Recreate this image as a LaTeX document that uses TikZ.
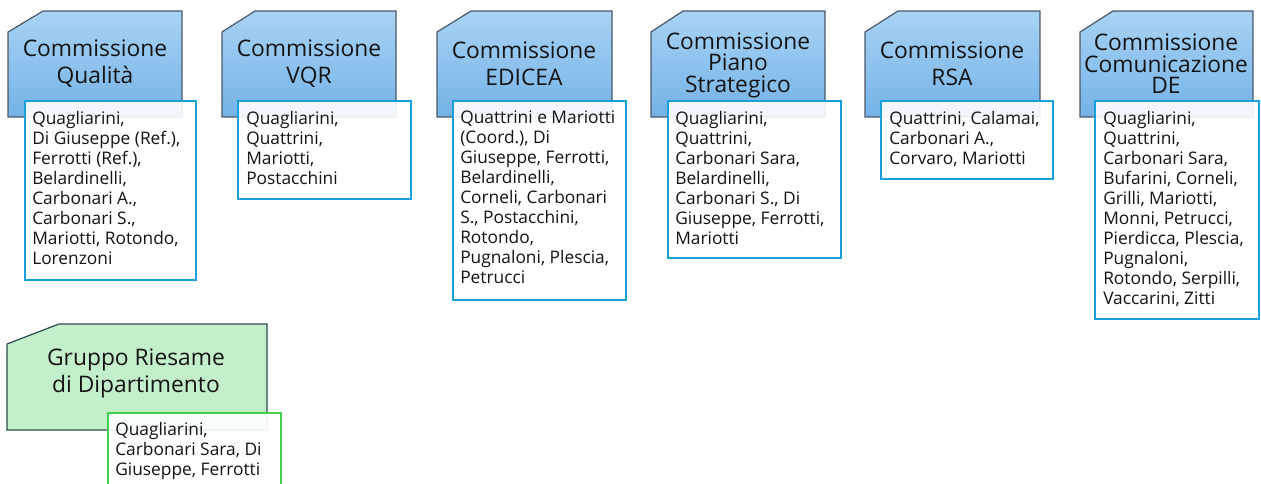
\documentclass[tikz,border=0pt]{standalone}
\usepackage{fontspec}
\setmainfont{Open Sans}
\definecolor{tabtop}{HTML}{A8D3F5}
\definecolor{tabbot}{HTML}{74B2E6}
\definecolor{tabline}{HTML}{4A5868}
\definecolor{boxblue}{HTML}{18A0DA}
\definecolor{grfill}{HTML}{C3EFCB}
\definecolor{grline}{HTML}{2B4B52}
\definecolor{boxgreen}{HTML}{40D04E}
\tikzset{
  tabblue/.style={draw=tabline, line width=0.9pt, top color=tabtop, bottom color=tabbot},
  tabgreen/.style={draw=grline, line width=0.9pt, fill=grfill},
  title/.style={font=\fontsize{17.1}{20.3}\selectfont, align=center, inner sep=0pt, text=black!92},
  titlethree/.style={font=\fontsize{17.1}{16.2}\selectfont, align=center, inner sep=0pt, text=black!92},
  bluebox/.style={draw=boxblue, line width=1.9pt, fill=white, fill opacity=0.9},
  greenbox/.style={draw=boxgreen, line width=2.1pt, fill=white, fill opacity=0.9},
  body/.style={font=\fontsize{13}{15}\selectfont, align=left, inner sep=0pt, anchor=north west, text=black!92},
}
\begin{document}
\begin{tikzpicture}[x=0.75pt,y=-0.75pt]
\useasboundingbox (0,0) rectangle (1261,483);
\clip (0,0) rectangle (1261,483);
% tabs
\draw[tabblue] (8,32) -- (43,11) -- (182,11) -- (182,117) -- (8,117) -- cycle;
\draw[tabblue] (222,32) -- (255,11) -- (396,11) -- (396,117) -- (222,117) -- cycle;
\draw[tabblue] (437,32) -- (471,11) -- (612,11) -- (612,117) -- (437,117) -- cycle;
\draw[tabblue] (651,32) -- (683,11) -- (825,11) -- (825,117) -- (651,117) -- cycle;
\draw[tabblue] (865,32) -- (898,11) -- (1040,11) -- (1040,117) -- (865,117) -- cycle;
\draw[tabblue] (1080,32) -- (1113,11) -- (1253,11) -- (1253,117) -- (1080,117) -- cycle;
\draw[tabgreen] (7,344) -- (59,324) -- (267,324) -- (267,430) -- (7,430) -- cycle;
% titles
\node[title] (t1) at (95,64) {Commissione\\Qualità};
\node[title] (t2) at (309,64) {Commissione\\VQR};
\node[title] (t3) at (524,64) {Commissione\\EDICEA};
\node[titlethree] (t4) at (738,65) {Commissione\\Piano\\Strategico};
\node[title] (t5) at (952,64) {Commissione\\RSA};
\node[titlethree] (t6) at (1166,64) {Commissione\\Comunicazione\\DE};
\node[title] (t7) at (136,373) {Gruppo Riesame\\di Dipartimento};
% boxes
\draw[bluebox] (25,101) rectangle (196,280);
\draw[bluebox] (238,101) rectangle (411,199);
\draw[bluebox] (453,101) rectangle (626,300);
\draw[bluebox] (668,101) rectangle (841,258);
\draw[bluebox] (881,101) rectangle (1053,179);
\draw[bluebox] (1095,101) rectangle (1259,319);
\draw[greenbox] (108,413) rectangle (281,520);
% body texts
\node[body] (b1) at (32,111) {Quagliarini,\\Di Giuseppe (Ref.),\\Ferrotti (Ref.),\\Belardinelli,\\Carbonari A.,\\Carbonari S.,\\Mariotti, Rotondo,\\Lorenzoni};
\node[body] (b2) at (246,111) {Quagliarini,\\Quattrini,\\Mariotti,\\Postacchini};
\node[body] (b3) at (460,111) {Quattrini e Mariotti\\(Coord.), Di\\Giuseppe, Ferrotti,\\Belardinelli,\\Corneli, Carbonari\\S., Postacchini,\\Rotondo,\\Pugnaloni, Plescia,\\Petrucci};
\node[body] (b4) at (675,111) {Quagliarini,\\Quattrini,\\Carbonari Sara,\\Belardinelli,\\Carbonari S., Di\\Giuseppe, Ferrotti,\\Mariotti};
\node[body] (b5) at (889,111) {Quattrini, Calamai,\\Carbonari A.,\\Corvaro, Mariotti};
\node[body] (b6) at (1103,111) {Quagliarini,\\Quattrini,\\Carbonari Sara,\\Bufarini, Corneli,\\Grilli, Mariotti,\\Monni, Petrucci,\\Pierdicca, Plescia,\\Pugnaloni,\\Rotondo, Serpilli,\\Vaccarini, Zitti};
\node[body] (b7) at (115,422) {Quagliarini,\\Carbonari Sara, Di\\Giuseppe, Ferrotti};
\end{tikzpicture}
\end{document}
